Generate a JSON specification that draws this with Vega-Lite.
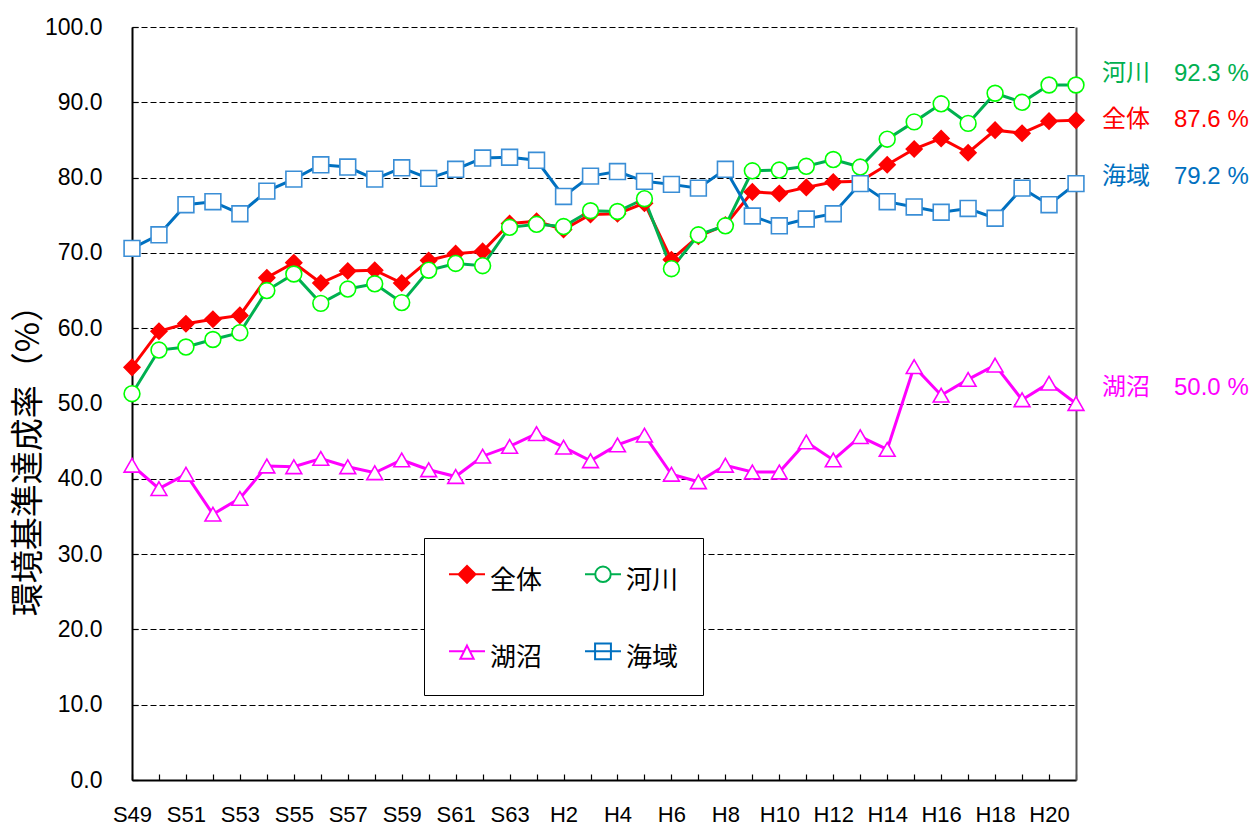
{
  "$schema": "https://vega.github.io/schema/vega-lite/v6.json",
  "width": 944,
  "height": 753,
  "autosize": {"type": "none"},
  "padding": {"left": 132, "top": 27, "right": 176, "bottom": 47},
  "background": "white",
  "config": {"view": {"stroke": null}, "font": "Liberation Sans"},
  "data": {"values": [
    {"year":"S49","series":"全体","value":54.8},{"year":"S50","series":"全体","value":59.6},{"year":"S51","series":"全体","value":60.6},{"year":"S52","series":"全体","value":61.2},{"year":"S53","series":"全体","value":61.7},{"year":"S54","series":"全体","value":66.7},{"year":"S55","series":"全体","value":68.7},{"year":"S56","series":"全体","value":66.0},{"year":"S57","series":"全体","value":67.6},{"year":"S58","series":"全体","value":67.7},{"year":"S59","series":"全体","value":66.0},{"year":"S60","series":"全体","value":69.0},{"year":"S61","series":"全体","value":69.9},{"year":"S62","series":"全体","value":70.2},{"year":"S63","series":"全体","value":73.9},{"year":"H1","series":"全体","value":74.2},{"year":"H2","series":"全体","value":73.1},{"year":"H3","series":"全体","value":75.1},{"year":"H4","series":"全体","value":75.2},{"year":"H5","series":"全体","value":76.6},{"year":"H6","series":"全体","value":69.1},{"year":"H7","series":"全体","value":72.2},{"year":"H8","series":"全体","value":73.7},{"year":"H9","series":"全体","value":78.1},{"year":"H10","series":"全体","value":77.9},{"year":"H11","series":"全体","value":78.7},{"year":"H12","series":"全体","value":79.4},{"year":"H13","series":"全体","value":79.5},{"year":"H14","series":"全体","value":81.7},{"year":"H15","series":"全体","value":83.8},{"year":"H16","series":"全体","value":85.2},{"year":"H17","series":"全体","value":83.3},{"year":"H18","series":"全体","value":86.3},{"year":"H19","series":"全体","value":85.9},{"year":"H20","series":"全体","value":87.5},{"year":"H21","series":"全体","value":87.6},
    {"year":"S49","series":"河川","value":51.3},{"year":"S50","series":"河川","value":57.1},{"year":"S51","series":"河川","value":57.5},{"year":"S52","series":"河川","value":58.5},{"year":"S53","series":"河川","value":59.4},{"year":"S54","series":"河川","value":65.0},{"year":"S55","series":"河川","value":67.2},{"year":"S56","series":"河川","value":63.3},{"year":"S57","series":"河川","value":65.2},{"year":"S58","series":"河川","value":65.9},{"year":"S59","series":"河川","value":63.4},{"year":"S60","series":"河川","value":67.7},{"year":"S61","series":"河川","value":68.6},{"year":"S62","series":"河川","value":68.3},{"year":"S63","series":"河川","value":73.4},{"year":"H1","series":"河川","value":73.8},{"year":"H2","series":"河川","value":73.5},{"year":"H3","series":"河川","value":75.6},{"year":"H4","series":"河川","value":75.5},{"year":"H5","series":"河川","value":77.2},{"year":"H6","series":"河川","value":67.9},{"year":"H7","series":"河川","value":72.4},{"year":"H8","series":"河川","value":73.6},{"year":"H9","series":"河川","value":80.9},{"year":"H10","series":"河川","value":81.0},{"year":"H11","series":"河川","value":81.5},{"year":"H12","series":"河川","value":82.4},{"year":"H13","series":"河川","value":81.4},{"year":"H14","series":"河川","value":85.1},{"year":"H15","series":"河川","value":87.4},{"year":"H16","series":"河川","value":89.8},{"year":"H17","series":"河川","value":87.2},{"year":"H18","series":"河川","value":91.2},{"year":"H19","series":"河川","value":90.0},{"year":"H20","series":"河川","value":92.3},{"year":"H21","series":"河川","value":92.3},
    {"year":"S49","series":"湖沼","value":41.8},{"year":"S50","series":"湖沼","value":38.7},{"year":"S51","series":"湖沼","value":40.6},{"year":"S52","series":"湖沼","value":35.3},{"year":"S53","series":"湖沼","value":37.4},{"year":"S54","series":"湖沼","value":41.7},{"year":"S55","series":"湖沼","value":41.6},{"year":"S56","series":"湖沼","value":42.7},{"year":"S57","series":"湖沼","value":41.6},{"year":"S58","series":"湖沼","value":40.8},{"year":"S59","series":"湖沼","value":42.5},{"year":"S60","series":"湖沼","value":41.2},{"year":"S61","series":"湖沼","value":40.3},{"year":"S62","series":"湖沼","value":43.0},{"year":"S63","series":"湖沼","value":44.3},{"year":"H1","series":"湖沼","value":46.0},{"year":"H2","series":"湖沼","value":44.2},{"year":"H3","series":"湖沼","value":42.4},{"year":"H4","series":"湖沼","value":44.5},{"year":"H5","series":"湖沼","value":45.8},{"year":"H6","series":"湖沼","value":40.6},{"year":"H7","series":"湖沼","value":39.6},{"year":"H8","series":"湖沼","value":41.8},{"year":"H9","series":"湖沼","value":40.9},{"year":"H10","series":"湖沼","value":40.9},{"year":"H11","series":"湖沼","value":44.9},{"year":"H12","series":"湖沼","value":42.5},{"year":"H13","series":"湖沼","value":45.6},{"year":"H14","series":"湖沼","value":43.9},{"year":"H15","series":"湖沼","value":54.9},{"year":"H16","series":"湖沼","value":51.1},{"year":"H17","series":"湖沼","value":53.2},{"year":"H18","series":"湖沼","value":55.1},{"year":"H19","series":"湖沼","value":50.5},{"year":"H20","series":"湖沼","value":52.7},{"year":"H21","series":"湖沼","value":50.0},
    {"year":"S49","series":"海域","value":70.6},{"year":"S50","series":"海域","value":72.4},{"year":"S51","series":"海域","value":76.4},{"year":"S52","series":"海域","value":76.8},{"year":"S53","series":"海域","value":75.2},{"year":"S54","series":"海域","value":78.2},{"year":"S55","series":"海域","value":79.8},{"year":"S56","series":"海域","value":81.7},{"year":"S57","series":"海域","value":81.4},{"year":"S58","series":"海域","value":79.8},{"year":"S59","series":"海域","value":81.3},{"year":"S60","series":"海域","value":79.9},{"year":"S61","series":"海域","value":81.1},{"year":"S62","series":"海域","value":82.6},{"year":"S63","series":"海域","value":82.7},{"year":"H1","series":"海域","value":82.3},{"year":"H2","series":"海域","value":77.5},{"year":"H3","series":"海域","value":80.2},{"year":"H4","series":"海域","value":80.8},{"year":"H5","series":"海域","value":79.5},{"year":"H6","series":"海域","value":79.1},{"year":"H7","series":"海域","value":78.6},{"year":"H8","series":"海域","value":81.1},{"year":"H9","series":"海域","value":74.9},{"year":"H10","series":"海域","value":73.6},{"year":"H11","series":"海域","value":74.5},{"year":"H12","series":"海域","value":75.2},{"year":"H13","series":"海域","value":79.2},{"year":"H14","series":"海域","value":76.8},{"year":"H15","series":"海域","value":76.1},{"year":"H16","series":"海域","value":75.4},{"year":"H17","series":"海域","value":75.9},{"year":"H18","series":"海域","value":74.6},{"year":"H19","series":"海域","value":78.6},{"year":"H20","series":"海域","value":76.4},{"year":"H21","series":"海域","value":79.2}
  ]},
  "encoding": {
    "x": {
      "field": "year", "type": "ordinal",
      "sort": ["S49","S50","S51","S52","S53","S54","S55","S56","S57","S58","S59","S60","S61","S62","S63","H1","H2","H3","H4","H5","H6","H7","H8","H9","H10","H11","H12","H13","H14","H15","H16","H17","H18","H19","H20","H21"],
      "scale": {"type": "point", "padding": 0},
      "axis": {
        "title": null, "grid": false, "labelAngle": 0, "labelOverlap": false,
        "labelExpr": "test(/^(S(49|51|53|55|57|59|61|63)|H(2|4|6|8|10|12|14|16|18|20))$/, datum.value) ? datum.value : ''",
        "domainColor": "black", "domainWidth": 2,
        "tickColor": "black", "tickWidth": 1.2, "tickSize": -6,
        "labelFont": "Liberation Sans", "labelFontSize": 22, "labelColor": "black", "labelPadding": 30
      }
    }
  },
  "layer": [
    {
      "mark": {"type": "line", "strokeWidth": 3},
      "encoding": {
        "y": {
          "field": "value", "type": "quantitative",
          "scale": {"domain": [0, 100]},
          "axis": {
            "values": [0,10,20,30,40,50,60,70,80,90,100], "format": ".1f",
            "domainColor": "black", "domainWidth": 2,
            "tickColor": "black", "tickWidth": 1.2, "tickSize": -6,
            "labelFont": "Liberation Sans", "labelFontSize": 23, "labelColor": "black", "labelPadding": 36,
            "grid": true, "gridDash": [6, 3], "gridColor": "black", "gridWidth": 1.2,
            "title": "環境基準達成率（%）", "titleFont": "Noto Sans CJK JP", "titleFontSize": 33,
            "titleFontWeight": "normal", "titleColor": "black", "titleAngle": -90,
            "titleAlign": "center", "titleBaseline": "middle", "titleX": -104, "titleY": 425
          }
        },
        "color": {
          "field": "series", "type": "nominal",
          "scale": {"domain": ["全体","河川","湖沼","海域"], "range": ["#FF0000","#00B050","#FF00FF","#0070C0"]},
          "legend": null
        }
      }
    },
    {
      "mark": {"type": "point", "size": 250, "strokeWidth": 1.6, "opacity": 1},
      "encoding": {
        "y": {
          "field": "value", "type": "quantitative",
          "axis": {"orient": "right", "labels": false, "ticks": false, "grid": false, "title": null, "domainColor": "#555555", "domainWidth": 2}
        },
        "shape": {
          "field": "series", "type": "nominal",
          "scale": {"domain": ["全体","河川","湖沼","海域"], "range": ["diamond","circle","triangle-up","square"]},
          "legend": null
        },
        "fill": {
          "field": "series", "type": "nominal",
          "scale": {"domain": ["全体","河川","湖沼","海域"], "range": ["#FF0000","#FFFFFF","#FFFFFF","#FFFFFF"]},
          "legend": null
        },
        "stroke": {
          "field": "series", "type": "nominal",
          "scale": {"domain": ["全体","河川","湖沼","海域"], "range": ["#FF0000","#00FF00","#FF00FF","#3A8ED6"]},
          "legend": null
        }
      }
    },
    {
      "mark": {"type": "point", "size": 1296, "strokeWidth": 2, "opacity": 0},
      "encoding": {
        "y": {"field": "value", "type": "quantitative", "axis": null},
        "shape": {
          "field": "series", "type": "nominal",
          "scale": {"domain": ["全体","河川","湖沼","海域"], "range": [
            "M-1,-0.37H1M-0.47,-0.37L0,-0.84L0.47,-0.37L0,0.1Z",
            "M-1,-0.37H-0.43M0.43,-0.37H1M0.43,-0.37A0.43,0.43 0 1,1 -0.43,-0.37A0.43,0.43 0 1,1 0.43,-0.37Z",
            "M-1,-0.37H-0.16M0.16,-0.37H1M0,-0.69L0.37,0.04L-0.37,0.04Z",
            "M-1,-0.37H1M-0.44,-0.81H0.44V0.07H-0.44Z"
          ]},
          "legend": {
            "orient": "none", "legendX": 292, "legendY": 511, "title": null, "direction": "horizontal",
            "columns": 2, "columnPadding": 38, "rowPadding": 45, "padding": 24,
            "strokeColor": "black", "fillColor": "white",
            "symbolSize": 1296, "symbolStrokeWidth": 2, "symbolOpacity": 1,
            "labelFont": "Noto Sans CJK JP", "labelFontSize": 26, "labelColor": "black", "labelOffset": 4
          }
        },
        "fill": {
          "field": "series", "type": "nominal",
          "scale": {"domain": ["全体","河川","湖沼","海域"], "range": ["#FF0000","#FFFFFF","#FFFFFF","#FFFFFF"]},
          "legend": {
            "orient": "none", "legendX": 292, "legendY": 511, "title": null, "direction": "horizontal",
            "columns": 2, "columnPadding": 38, "rowPadding": 45, "padding": 24,
            "strokeColor": "black", "fillColor": "white",
            "symbolSize": 1296, "symbolStrokeWidth": 2, "symbolOpacity": 1,
            "labelFont": "Noto Sans CJK JP", "labelFontSize": 26, "labelColor": "black", "labelOffset": 4
          }
        },
        "stroke": {
          "field": "series", "type": "nominal",
          "scale": {"domain": ["全体","河川","湖沼","海域"], "range": ["#FF0000","#00B050","#FF00FF","#0070C0"]},
          "legend": {
            "orient": "none", "legendX": 292, "legendY": 511, "title": null, "direction": "horizontal",
            "columns": 2, "columnPadding": 38, "rowPadding": 45, "padding": 24,
            "strokeColor": "black", "fillColor": "white",
            "symbolSize": 1296, "symbolStrokeWidth": 2, "symbolOpacity": 1,
            "labelFont": "Noto Sans CJK JP", "labelFontSize": 26, "labelColor": "black", "labelOffset": 4
          }
        }
      }
    },
    {
      "transform": [{"filter": "datum.year === 'H21' && datum.series === '河川'"}, {"calculate": "datum.series + '\u3000' + format(datum.value, '.1f') + ' %'", "as": "label"}],
      "mark": {"type": "text", "align": "left", "baseline": "middle", "dx": 26, "dy": -11, "fontSize": 24, "font": "Liberation Sans, Noto Sans CJK JP", "color": "#00B050"},
      "encoding": {"y": {"field": "value", "type": "quantitative", "axis": null}, "text": {"field": "label"}}
    },
    {
      "transform": [{"filter": "datum.year === 'H21' && datum.series === '全体'"}, {"calculate": "datum.series + '\u3000' + format(datum.value, '.1f') + ' %'", "as": "label"}],
      "mark": {"type": "text", "align": "left", "baseline": "middle", "dx": 26, "dy": 0, "fontSize": 24, "font": "Liberation Sans, Noto Sans CJK JP", "color": "#FF0000"},
      "encoding": {"y": {"field": "value", "type": "quantitative", "axis": null}, "text": {"field": "label"}}
    },
    {
      "transform": [{"filter": "datum.year === 'H21' && datum.series === '海域'"}, {"calculate": "datum.series + '\u3000' + format(datum.value, '.1f') + ' %'", "as": "label"}],
      "mark": {"type": "text", "align": "left", "baseline": "middle", "dx": 26, "dy": -7, "fontSize": 24, "font": "Liberation Sans, Noto Sans CJK JP", "color": "#0070C0"},
      "encoding": {"y": {"field": "value", "type": "quantitative", "axis": null}, "text": {"field": "label"}}
    },
    {
      "transform": [{"filter": "datum.year === 'H21' && datum.series === '湖沼'"}, {"calculate": "datum.series + '\u3000' + format(datum.value, '.1f') + ' %'", "as": "label"}],
      "mark": {"type": "text", "align": "left", "baseline": "middle", "dx": 26, "dy": -16, "fontSize": 24, "font": "Liberation Sans, Noto Sans CJK JP", "color": "#FF00FF"},
      "encoding": {"y": {"field": "value", "type": "quantitative", "axis": null}, "text": {"field": "label"}}
    }
  ],
  "resolve": {
    "axis": {"y": "independent"},
    "scale": {"shape": "independent", "fill": "independent", "stroke": "independent"}
  }
}
